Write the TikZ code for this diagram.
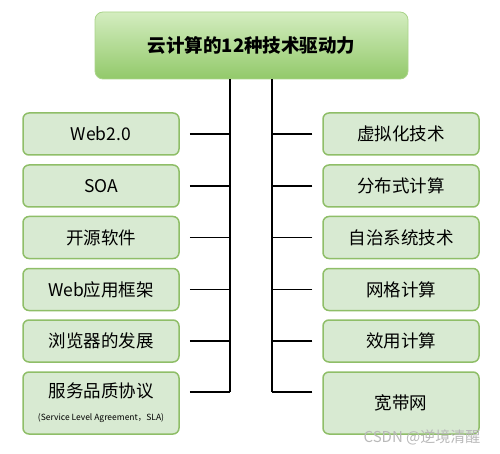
\documentclass[tikz,border=0pt]{standalone}
\usepackage{fontspec}
\setmainfont{Noto Sans CJK SC}
\usetikzlibrary{positioning}

\definecolor{boxfill}{RGB}{216,234,210}
\definecolor{boxline}{RGB}{143,190,104}
\definecolor{titletop}{RGB}{212,237,192}
\definecolor{titlebot}{RGB}{146,201,106}
\definecolor{titleline}{RGB}{170,212,138}
\definecolor{markgray}{RGB}{185,185,185}

\begin{document}
\begin{tikzpicture}
[x=1pt,y=1pt,
titlebox/.style={rectangle,rounded corners=8pt,draw=titleline,thick,top color=titletop,bottom color=titlebot,minimum width=313pt,minimum height=67pt,font=\fontsize{18.5}{20}\selectfont\bfseries},
techbox/.style={rectangle,rounded corners=6pt,draw=boxline,fill=boxfill,line width=1.5pt,minimum width=156pt,minimum height=42pt,inner sep=0pt,font=\fontsize{17.5}{19}\selectfont},
tallbox/.style={techbox,minimum height=62pt,align=center},
trunk/.style={black,line width=1.6pt}]
\useasboundingbox (0,0) rectangle (500,-454);
\node (title) at (251.5,-45.5) [titlebox] {云计算的12种技术驱动力};
\node (l1) at (101,-134) [techbox] {Web2.0};
\node (l2) at (101,-186) [techbox] {SOA};
\node (l3) at (101,-237.5) [techbox] {开源软件};
\node (l4) at (101,-289.5) [techbox] {Web应用框架};
\node (l5) at (101,-341) [techbox] {浏览器的发展};
\node (l6) at (101,-403) [tallbox] {服务品质协议\\[4pt]{\fontsize{8.5}{10}\selectfont (Service Level Agreement，SLA)}};
\node (r1) at (401,-134) [techbox] {虚拟化技术};
\node (r2) at (401,-186) [techbox] {分布式计算};
\node (r3) at (401,-237.5) [techbox] {自治系统技术};
\node (r4) at (401,-289.5) [techbox] {网格计算};
\node (r5) at (401,-341) [techbox] {效用计算};
\node (r6) at (401,-403) [tallbox] {宽带网};
% trunks under the title
\coordinate (ltop) at (230,-79);
\coordinate (lbot) at (230,-392);
\coordinate (rtop) at (272,-79);
\coordinate (rbot) at (272,-392);
\draw[trunk] (ltop) -- (lbot);
\draw[trunk] (rtop) -- (rbot);
% branches
\foreach \n in {1,...,5}{
\draw[trunk] ([xshift=10pt]l\n.east) -- (l\n.east -| ltop);
\draw[trunk] ([xshift=-10pt]r\n.west) -- (r\n.west -| rtop);
}
\draw[trunk] ([xshift=10pt]l6.east |- lbot) -- (lbot);
\draw[trunk] ([xshift=-10pt]r6.west |- rbot) -- (rbot);
\node (mark) at (422,-437) [text=markgray,font=\fontsize{15}{17}\selectfont] {CSDN @逆境清醒};
\end{tikzpicture}
\end{document}
